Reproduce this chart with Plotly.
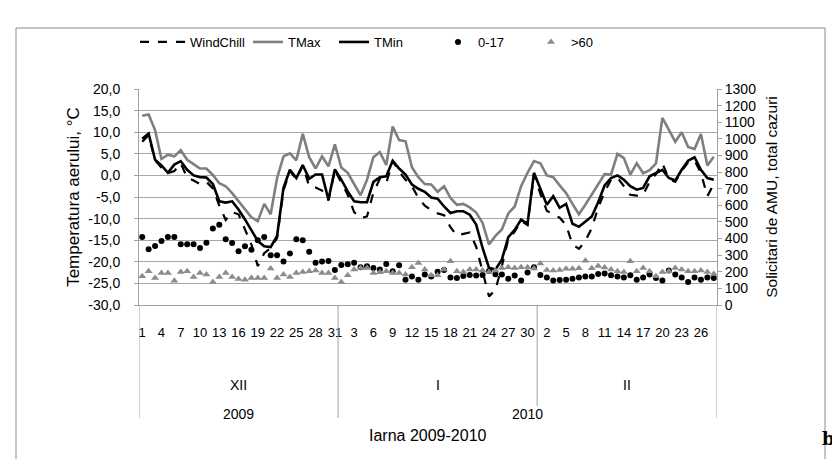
import plotly.graph_objects as go

# --- data: 1 Dec 2009 .. 28 Feb 2010 ---
days_dec = list(range(1, 32))
days_jan = list(range(1, 32))
days_feb = list(range(1, 29))
day_labels = days_dec + days_jan + days_feb

months = ["XII", "I", "II"]
month_sizes = [31, 31, 28]
years = ["2009", "2010"]
year_sizes = [31, 59]

tmax = [13.8, 14.1, 10.5, 3.8, 4.8, 4.4, 5.8, 3.6, 2.6, 1.6, 1.6, 0.1, -1.8, -2.5, -4.1, -6.0,
        -7.9, -9.7, -10.6, -6.6, -9.0, -0.6, 4.4, 5.1, 3.5, 9.6, 4.2, 1.6, 4.4, 2.1, 7.2,
        1.8, 0.6, -2.1, -4.6, -1.0, 4.2, 5.4, 2.4, 11.3, 8.2, 7.9, 1.9, -0.4, -2.0, -2.1, -3.8,
        -2.5, -5.2, -6.8, -6.6, -7.4, -8.6, -11.0, -16.0, -14.0, -12.5, -8.8, -7.2, -2.5, 0.6, 3.3,
        2.8, 0.0, -0.4, -2.3, -4.1, -6.6, -9.0, -6.8, -4.5, -2.2, 0.3, 0.2, 5.0, 4.0, 0.2, 2.8,
        0.5, 1.2, 2.8, 13.3, 10.5, 7.8, 10.0, 6.6, 6.1, 9.6, 2.3, 4.3]

tmin = [8.5, 9.7, 3.6, 2.3, 0.6, 2.5, 3.3, 1.3, 0.0, -0.4, -0.5, -2.0, -6.0, -6.3, -6.0, -7.9,
        -10.2, -12.6, -15.2, -16.4, -16.6, -14.0, -2.9, 1.3, -0.6, 2.4, -0.8, 0.2, 0.2, -5.6, 1.4,
        -1.0, -3.7, -6.0, -6.2, -6.2, -1.5, -0.4, -0.2, 3.4, 1.6, 0.2, -2.1, -3.1, -3.8, -5.1, -5.4,
        -7.2, -8.7, -8.3, -8.3, -9.1, -11.4, -16.8, -21.4, -21.8, -19.5, -14.3, -12.6, -10.2, -11.2, 0.6,
        -3.3, -6.8, -4.8, -7.5, -6.6, -11.2, -11.9, -10.8, -9.5, -6.2, -2.3, -0.6, 0.0, -1.0, -2.5, -3.3,
        -2.9, -0.2, 0.6, 1.3, -0.6, -1.2, 1.3, 3.4, 4.2, 1.3, -0.6, -1.0]

windchill = [7.8, 9.3, 3.5, 1.8, 0.5, 1.0, 2.8, -0.5, -1.2, -2.0, -1.5, -3.0, -7.0, -10.3, -8.5, -9.0,
             -12.5, -16.0, -21.0, -18.0, -16.8, -14.5, -3.5, 1.0, -0.8, 2.3, -2.5, -2.8, -3.5, -5.8, 1.2,
             -1.5, -4.5, -8.5, -9.9, -9.5, -4.0, -0.8, -1.8, 3.3, 0.9, -1.0, -2.5, -5.2, -7.0, -8.0, -8.8,
             -9.2, -12.0, -13.9, -13.5, -13.2, -16.5, -22.0, -28.0, -26.5, -21.0, -14.8, -13.0, -10.5, -11.5, 0.3,
             -4.3, -8.2, -9.0, -9.8, -11.5, -16.0, -17.0, -15.2, -12.2, -7.5, -3.8, -1.0, -0.5, -2.5, -4.5, -4.7,
             -4.5, -1.5, 0.3, 2.8, -0.8, -1.5, 1.0, 3.0, 3.5, 0.5, -4.8, -2.0]

age_0_17 = [410, 335, 355, 385, 410, 410, 365, 365, 365, 343, 375, 460, 483, 395, 373, 323,
            353, 333, 390, 410, 300, 300, 262, 310, 395, 390, 320, 255, 262, 265, 210,
            240, 245, 255, 227, 233, 223, 213, 247, 203, 239, 152, 172, 152, 183, 172, 200,
            210, 166, 162, 175, 180, 178, 180, 205, 185, 183, 158, 178, 148, 195, 227,
            180, 166, 148, 150, 152, 158, 166, 172, 172, 187, 190, 179, 172, 166, 179, 152,
            166, 183, 162, 148, 207, 183, 166, 138, 166, 152, 166, 162]

age_60 = [173, 203, 162, 193, 193, 146, 199, 203, 169, 193, 183, 138, 169, 193, 169, 156,
          152, 162, 162, 162, 219, 162, 183, 169, 193, 199, 203, 207, 193, 193, 162,
          138, 179, 213, 223, 223, 193, 197, 203, 193, 193, 183, 227, 253, 213, 179, 179,
          213, 263, 203, 199, 213, 213, 207, 199, 207, 223, 227, 223, 227, 227, 219,
          250, 210, 208, 211, 218, 218, 221, 266, 221, 235, 225, 213, 203, 199, 263, 203,
          223, 203, 173, 199, 203, 223, 213, 203, 203, 207, 199, 187]

temp_ticks = [-30, -25, -20, -15, -10, -5, 0, 5, 10, 15, 20]
cases_ticks = list(range(0, 1301, 100))

x = list(range(len(day_labels)))
FONT = "Liberation Sans Narrow, Arial Narrow, sans-serif"

# plot area: x 131..709, y 81..297 px
W, H = 840, 459
L, R, T, B = 131, 709, 81, 297
pw, ph = R - L, B - T

def px(xp):
    return (xp - L) / pw

def py(yp):
    return (B - yp) / ph

fig = go.Figure()
fig.add_trace(go.Scatter(x=x, y=windchill, name="WindChill", mode="lines", legend="legend",
                         line=dict(color="black", width=2.2, dash="dash")))
fig.add_trace(go.Scatter(x=x, y=tmax, name="TMax", mode="lines", legend="legend2",
                         line=dict(color="#7f7f7f", width=2.6)))
fig.add_trace(go.Scatter(x=x, y=tmin, name="TMin", mode="lines", legend="legend3",
                         line=dict(color="black", width=2.6)))
fig.add_trace(go.Scatter(x=x, y=age_0_17, name="0-17", mode="markers", yaxis="y2", legend="legend4",
                         marker=dict(color="black", size=6, symbol="circle")))
fig.add_trace(go.Scatter(x=x, y=age_60, name=">60", mode="markers", yaxis="y2", legend="legend5",
                         marker=dict(color="#8c8c8c", size=7, symbol="triangle-up")))

def leg(xp, iw=30):
    return dict(orientation="h", x=px(xp), y=py(34), xanchor="left", yanchor="middle",
                font=dict(size=13), itemwidth=iw, bgcolor="rgba(0,0,0,0)")

fig.update_layout(
    width=W, height=H,
    margin=dict(l=L, r=W - R, t=T, b=H - B),
    paper_bgcolor="white", plot_bgcolor="white",
    font=dict(family=FONT, size=13, color="black"),
    showlegend=True,
    legend=leg(127, 45), legend2=leg(240), legend3=leg(326), legend4=leg(430), legend5=leg(523),
    xaxis=dict(range=[-0.5, len(x) - 0.5], tickmode="array",
               tickvals=x[::3], ticktext=[str(d) for d in day_labels[::3]],
               showgrid=False, zeroline=False, showline=True, linecolor="#a0a0a0",
               ticks="", ticklabelstandoff=15, tickfont=dict(size=13)),
    yaxis=dict(range=[-30, 20], tickmode="array", tickvals=temp_ticks,
               ticktext=[f"{v:.1f}".replace(".", ",") for v in temp_ticks],
               showgrid=True, gridcolor="#a6a6a6", gridwidth=1, zeroline=False,
               showline=True, linecolor="#a0a0a0", ticks="outside", ticklen=4, tickcolor="#a0a0a0",
               ticklabelstandoff=11, tickfont=dict(size=14),
               title=dict(text="Temperatura aerului, °C", font=dict(size=17), standoff=4)),
    yaxis2=dict(range=[0, 1300], tickmode="array", tickvals=cases_ticks, overlaying="y", side="right",
                showgrid=False, zeroline=False, showline=True, linecolor="#a0a0a0",
                ticks="outside", ticklen=4, tickcolor="#a0a0a0", tickfont=dict(size=14),
                title=dict(text="Solicitari de AMU, total cazuri", font=dict(size=15.5), standoff=10)),
)

shapes = []
annotations = []
# separators of the month / year rows of the category axis
start = 0
bounds = [-0.5]
for n in month_sizes:
    start += n
    bounds.append(start - 0.5)
for b in bounds:
    deep = b in (-0.5, year_sizes[0] - 0.5, len(x) - 0.5)
    shapes.append(dict(type="line", xref="x", yref="paper", x0=b, x1=b, y0=0,
                       y1=py(410 if deep else 398), line=dict(color="#a0a0a0", width=1)))
start = 0
for m, n in zip(months, month_sizes):
    annotations.append(dict(x=start + (n - 1) / 2, y=py(387), xref="x", yref="paper", text=m,
                            showarrow=False, font=dict(size=14)))
    start += n
start = 0
for yr, n in zip(years, year_sizes):
    annotations.append(dict(x=start + (n - 1) / 2, y=py(416), xref="x", yref="paper", text=yr,
                            showarrow=False, font=dict(size=14)))
    start += n
annotations.append(dict(x=0.5, y=py(438), xref="paper", yref="paper", text="Iarna 2009-2010",
                        showarrow=False, font=dict(size=16)))
annotations.append(dict(x=px(829), y=py(443), xref="paper", yref="paper", text="<b>b</b>",
                        showarrow=False, font=dict(family="DejaVu Serif", size=18)))
# chart area border
shapes.append(dict(type="rect", xref="paper", yref="paper", x0=px(8), x1=px(817), y0=py(470),
                   y1=py(20), line=dict(color="#8a8a8a", width=1)))

fig.update_layout(shapes=shapes, annotations=annotations)
fig.write_html("out.html")
